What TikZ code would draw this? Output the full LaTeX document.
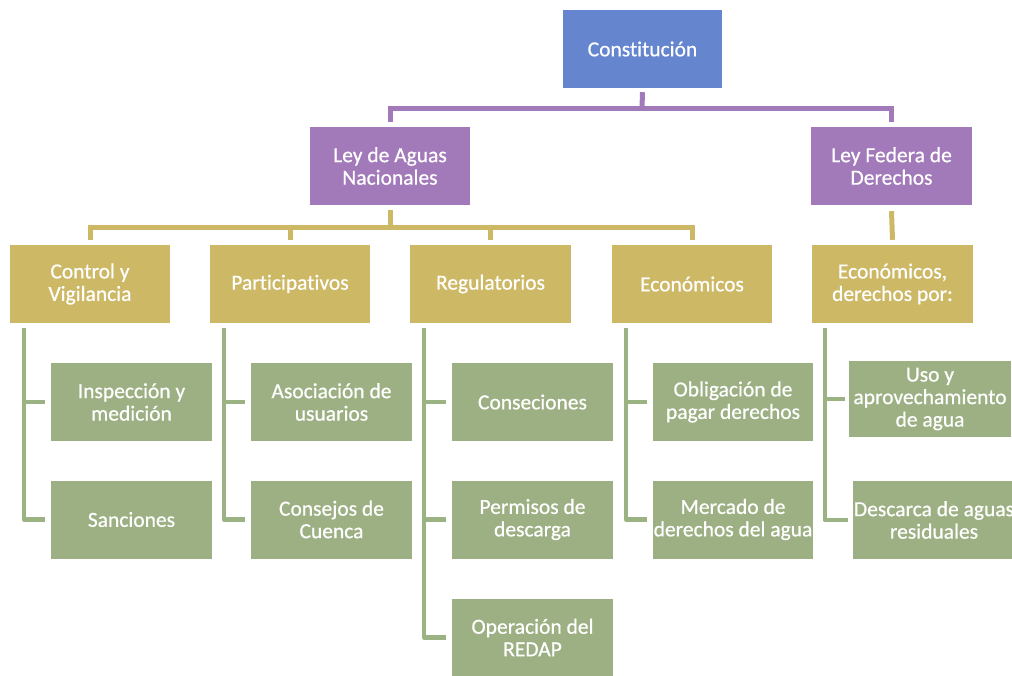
\documentclass[tikz,border=0pt]{standalone}
\usepackage{fontspec}
\setmainfont{Carlito}[Ligatures=NoCommon, FakeBold=0.6]
\definecolor{cblue}{RGB}{101,134,207}
\definecolor{cpurple}{RGB}{162,121,185}
\definecolor{cgold}{RGB}{205,184,101}
\definecolor{cgreen}{RGB}{157,176,131}
\definecolor{cgreenline}{RGB}{155,178,130}
\tikzset{
  box/.style={rectangle, minimum width=160pt, minimum height=78pt, inner sep=0pt,
    text=white, align=center, font=\fontsize{21.5}{22.5}\selectfont},
  bluebox/.style={box, fill=cblue},
  purplebox/.style={box, fill=cpurple},
  goldbox/.style={box, fill=cgold},
  greenbox/.style={box, fill=cgreen},
  pline/.style={draw=cpurple, line width=5pt},
  gline/.style={draw=cgold, line width=5pt},
  grline/.style={draw=cgreenline, line width=4.5pt, line join=round},
}
\begin{document}
\begin{tikzpicture}[x=1pt,y=-1pt]
\useasboundingbox (0,0) rectangle (1012,675);
\clip (0,0) rectangle (1012,675);
% level 0/1
\node[bluebox, minimum width=159pt] (const) at (642.5,49) {Constitución};
\node[purplebox] (lan) at (390,166) {Ley de Aguas\\Nacionales};
\node[purplebox, minimum width=161pt] (lfd) at (891.5,166) {Ley Federa de\\Derechos};
% level 2
\node[goldbox] (ctrl) at (90,284) {Control y\\Vigilancia};
\node[goldbox] (part) at (290,284) {Participativos};
\node[goldbox, minimum width=161pt] (reg) at (490.5,284) {Regulatorios};
\node[goldbox] (econ) at (692,284) {Económicos};
\node[goldbox, minimum width=161pt] (econd) at (892.5,284) {Económicos,\\derechos por:};
% level 3
\node[greenbox, minimum width=161pt] (insp) at (131.5,402) {Inspección y\\medición};
\node[greenbox, minimum width=161pt] (sanc) at (131.5,519.5) {Sanciones};
\node[greenbox, minimum width=161pt] (asoc) at (331.5,402) {Asociación de\\usuarios};
\node[greenbox, minimum width=161pt] (cons) at (331.5,519.5) {Consejos de\\Cuenca};
\node[greenbox, minimum width=161pt] (conc) at (532.5,402) {Conseciones};
\node[greenbox, minimum width=161pt] (perm) at (532.5,519.5) {Permisos de\\descarga};
\node[greenbox, minimum width=161pt] (oper) at (532.5,637.5) {Operación del\\REDAP};
\node[greenbox] (oblig) at (733,402) {Obligación de\\pagar derechos};
\node[greenbox] (merc) at (733,519.5) {Mercado de\\derechos del agua};
\node[greenbox, minimum width=162pt, minimum height=76pt] (uso) at (930,399) {Uso y\\aprovechamiento\\de agua};
\node[greenbox, minimum width=162pt] (desc) at (934,520) {Descarca de aguas\\residuales};
% purple connectors
\coordinate (pbus) at (642,108);
\draw[pline] ([yshift=-4pt]const.south) -- (pbus);
\draw[pline] ([yshift=5pt]lan.north) |- (pbus) -| ([yshift=5pt]lfd.north);
% gold connectors
\coordinate (gbus) at (390,227);
\draw[gline] ([yshift=-5pt]lan.south) -- (gbus);
\draw[gline] ([yshift=5pt]ctrl.north) |- (gbus) -| ([yshift=5pt]econ.north);
\draw[gline] (gbus -| part.north) -- ([yshift=5pt]part.north);
\draw[gline] (gbus -| reg.north) -- ([yshift=5pt]reg.north);
\draw[gline] ([yshift=-6pt]lfd.south) -- ([yshift=5pt]econd.north);
% green connectors
\coordinate (cv1) at ([xshift=14pt,yshift=-5pt]ctrl.south west);
\draw[grline] (cv1) |- ([xshift=-6pt]sanc.west);
\draw[grline] ([xshift=-6pt]insp.west) -- (insp.west -| cv1);
\coordinate (cv2) at ([xshift=14pt,yshift=-5pt]part.south west);
\draw[grline] (cv2) |- ([xshift=-6pt]cons.west);
\draw[grline] ([xshift=-6pt]asoc.west) -- (asoc.west -| cv2);
\coordinate (cv3) at ([xshift=14pt,yshift=-5pt]reg.south west);
\draw[grline] (cv3) |- ([xshift=-6pt]oper.west);
\draw[grline] ([xshift=-6pt]conc.west) -- (conc.west -| cv3);
\draw[grline] ([xshift=-6pt]perm.west) -- (perm.west -| cv3);
\coordinate (cv4) at ([xshift=14pt,yshift=-5pt]econ.south west);
\draw[grline] (cv4) |- ([xshift=-6pt]merc.west);
\draw[grline] ([xshift=-6pt]oblig.west) -- (oblig.west -| cv4);
\coordinate (cv5) at ([xshift=13pt,yshift=-5pt]econd.south west);
\draw[grline] (cv5) |- ([xshift=-5pt]desc.west);
\draw[grline] ([xshift=-4pt]uso.west) -- (uso.west -| cv5);
\end{tikzpicture}
\end{document}
